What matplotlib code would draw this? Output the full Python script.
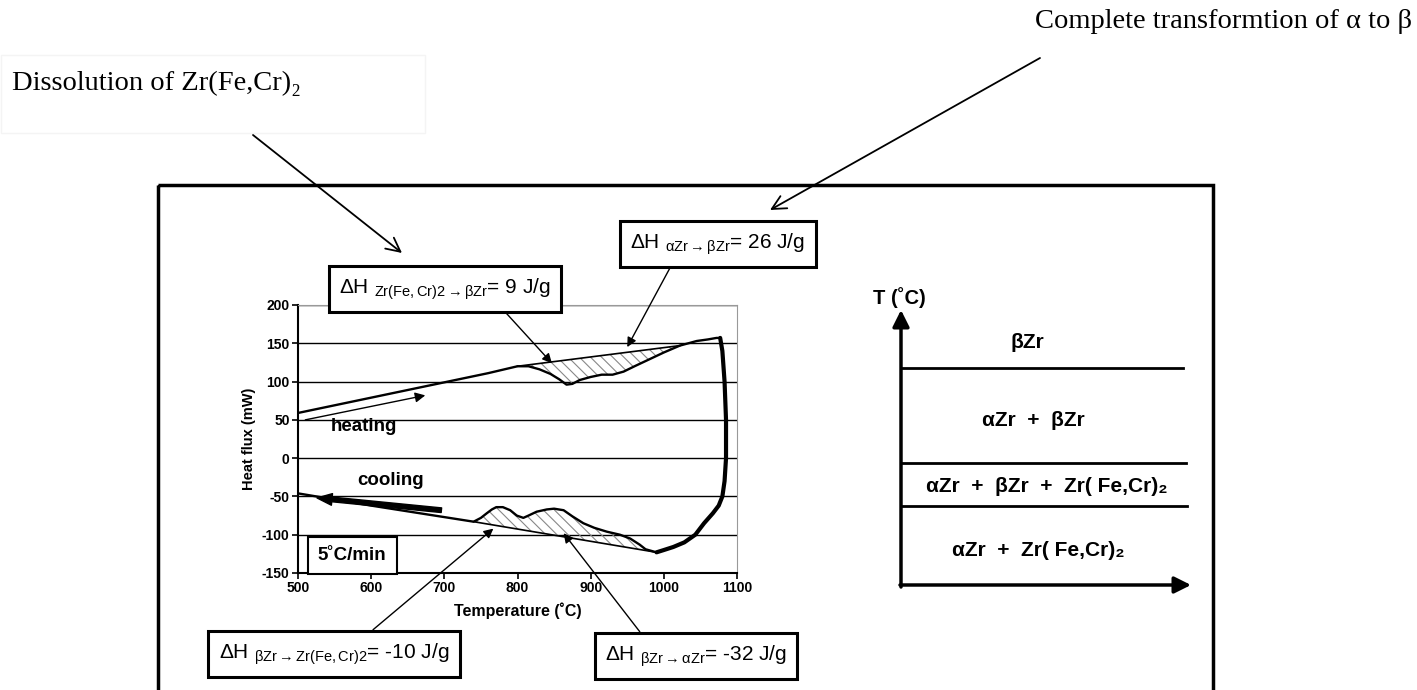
import matplotlib
matplotlib.use('Agg')
import matplotlib.pyplot as plt
import numpy as np
from matplotlib.patches import Rectangle

# DSC curve, heat flux (mW) vs temperature (C)
heat_T = [500, 600, 700, 760, 800, 815, 830, 845, 857, 867, 875, 885, 900, 915,
          930, 945, 960, 980, 1000, 1022, 1045, 1060, 1072, 1077]
heat_Q = [59, 79, 99, 111, 120, 120, 116, 110, 103, 96, 97, 102, 106, 109,
          109, 113, 120, 129, 138, 147, 153, 155, 157, 157]

loop_T = [1077, 1080, 1083, 1085, 1085, 1083, 1080, 1075, 1067, 1055, 1043,
          1028, 1013, 1000, 990]
loop_Q = [157, 140, 100, 50, 0, -30, -50, -62, -72, -85, -100,
          -110, -116, -120, -123]

cool_T = [990, 975, 967, 954, 940, 922, 905, 890, 875, 863, 850, 840, 826, 815,
          808, 799, 790, 780, 771, 765, 758, 750, 740, 600, 500]
cool_Q = [-123, -119, -113, -105, -100, -96, -91, -85, -76, -68, -66, -67, -70, -75,
          -78, -75, -68, -64, -64, -67, -72, -78, -83, -62, -46]

# integration baselines of the peaks
heat_base_T = [800, 1022]
heat_base_Q = [120, 147]
cool_base_T = [740, 990]
cool_base_Q = [-83, -123]

x_ticks = [500, 600, 700, 800, 900, 1000, 1100]
y_ticks = [-150, -100, -50, 0, 50, 100, 150, 200]

phases = ['βZr', 'αZr  +  βZr', 'αZr  +  βZr  +  Zr( Fe,Cr)₂', 'αZr  +  Zr( Fe,Cr)₂']

plt.rcParams['font.family'] = ['Liberation Sans', 'DejaVu Sans']
plt.rcParams['mathtext.fontset'] = 'custom'
plt.rcParams['mathtext.rm'] = 'Liberation Sans'
plt.rcParams['mathtext.it'] = 'Liberation Sans:italic'
plt.rcParams['mathtext.bf'] = 'Liberation Sans:bold'
plt.rcParams['hatch.linewidth'] = 0.8

W, H = 1417, 690
fig = plt.figure(figsize=(W / 100, H / 100), dpi=100)

# overlay in pixel coordinates for the schematic parts
ov = fig.add_axes([0, 0, 1, 1])
ov.set_xlim(0, W)
ov.set_ylim(H, 0)
ov.axis('off')

ax = fig.add_axes([298 / W, (H - 573) / H, 439 / W, 268 / H])

heat_T = np.array(heat_T)
heat_Q = np.array(heat_Q)
cool_T = np.array(cool_T)
cool_Q = np.array(cool_Q)

m = (heat_T >= heat_base_T[0]) & (heat_T <= heat_base_T[1])
ax.fill_between(heat_T[m], heat_Q[m], np.interp(heat_T[m], heat_base_T, heat_base_Q),
                facecolor='none', edgecolor='#888888', hatch='\\\\\\', linewidth=0)
m = (cool_T >= cool_base_T[0]) & (cool_T <= cool_base_T[1])
ax.fill_between(cool_T[m], cool_Q[m], np.interp(cool_T[m], cool_base_T, cool_base_Q),
                facecolor='none', edgecolor='#888888', hatch='\\\\\\', linewidth=0)

ax.plot(heat_base_T, heat_base_Q, color='black', lw=1.2)
ax.plot(cool_base_T, cool_base_Q, color='black', lw=1.2)
ax.plot(heat_T, heat_Q, color='black', lw=1.7)
ax.plot(loop_T, loop_Q, color='black', lw=3, solid_capstyle='round')
ax.plot(cool_T, cool_Q, color='black', lw=1.7)

ax.set_xlim(500, 1100)
ax.set_ylim(-150, 200)
ax.set_xticks(x_ticks)
ax.set_yticks(y_ticks)
ax.set_xticklabels([str(v) for v in x_ticks], fontweight='bold', fontsize=10)
ax.set_yticklabels([str(v) for v in y_ticks], fontweight='bold', fontsize=10)
ax.grid(axis='y', color='black', lw=1)
ax.set_axisbelow(True)
ax.tick_params(direction='out', length=4, width=1.2, pad=2)
for s in ['top', 'right']:
    ax.spines[s].set_color('#999999')
for s in ['left', 'bottom']:
    ax.spines[s].set_linewidth(1.5)
ax.set_xlabel('Temperature (˚C)', fontweight='bold', fontsize=11.5, labelpad=5)
ax.set_ylabel('Heat flux (mW)', fontweight='bold', fontsize=10.5, labelpad=4)

ax.text(590, 41, 'heating', ha='center', va='center', fontweight='bold', fontsize=13.5)
ax.text(626, -29, 'cooling', ha='center', va='center', fontweight='bold', fontsize=13.5)
ax.annotate('', xy=(674, 82), xytext=(510, 50),
            arrowprops=dict(arrowstyle='-|>', lw=1, color='black', mutation_scale=15,
                            shrinkA=0, shrinkB=0))
ax.annotate('', xy=(526, -52), xytext=(696, -68),
            arrowprops=dict(arrowstyle='simple,head_width=0.7,head_length=0.9,tail_width=0.28',
                            fc='black', ec='black', mutation_scale=12, shrinkA=0, shrinkB=0))
ax.text(574, -127, '5˚C/min', ha='center', va='center', fontweight='bold', fontsize=13.5,
        zorder=5, bbox=dict(boxstyle='square,pad=0.55', fc='white', ec='black', lw=1.5))

# enthalpy boxes
boxes = [
    (r'ΔH $_{\mathrm{Zr(Fe,Cr)2}\rightarrow\mathrm{βZr}}$= 9 J/g', (847, 124), (445, 289), (0.74, 0)),
    (r'ΔH $_{\mathrm{αZr}\rightarrow\mathrm{βZr}}$= 26 J/g', (950, 145), (718, 244), (0.26, 0)),
    (r'ΔH $_{\mathrm{βZr}\rightarrow\mathrm{Zr(Fe,Cr)2}}$= -10 J/g', (767, -92), (334, 654), (0.61, 1)),
    (r'ΔH $_{\mathrm{βZr}\rightarrow\mathrm{αZr}}$= -32 J/g', (863, -98), (696, 656), (0.24, 1)),
]
for label, xy, xytext, rp in boxes:
    ax.annotate(label, xy=xy, xycoords='data', xytext=xytext, textcoords=ov.transData,
                ha='center', va='center', fontsize=15, annotation_clip=False, zorder=6,
                bbox=dict(boxstyle='square,pad=0.5', fc='white', ec='black', lw=2.2),
                arrowprops=dict(arrowstyle='-|>', color='black', lw=1, relpos=rp,
                                mutation_scale=14, shrinkA=0, shrinkB=0))

# outer frame and top comments
ov.add_patch(Rectangle((158, 185), 1055, 600, fill=False, ec='black', lw=2.5))
ov.add_patch(Rectangle((1, 55), 424, 78, fill=False, ec='#f4f4f4', lw=1))
ov.text(12, 83, 'Dissolution of Zr(Fe,Cr)₂', family=['Liberation Serif', 'DejaVu Serif'],
        fontsize=20.5, va='center')
ov.text(1412, 22, 'Complete transformtion of α to β', family=['Liberation Serif', 'DejaVu Serif'],
        fontsize=20.5, va='center', ha='right')
ov.annotate('', xy=(402, 253), xytext=(253, 135),
            arrowprops=dict(arrowstyle='->', lw=1.3, mutation_scale=25, color='black',
                            shrinkA=0, shrinkB=0))
ov.annotate('', xy=(770, 210), xytext=(1040, 58),
            arrowprops=dict(arrowstyle='->', lw=1.3, mutation_scale=25, color='black',
                            shrinkA=0, shrinkB=0))

# phase schematic
ov.annotate('', xy=(901, 310), xytext=(901, 587),
            arrowprops=dict(arrowstyle='-|>', lw=2.5, mutation_scale=25, color='black',
                            shrinkA=0, shrinkB=0))
ov.annotate('', xy=(1191, 585), xytext=(900, 585),
            arrowprops=dict(arrowstyle='-|>', lw=2.5, mutation_scale=25, color='black',
                            shrinkA=0, shrinkB=0))
for yl, xe in [(368, 1183), (463, 1186), (506, 1187)]:
    ov.plot([901, xe], [yl, yl], color='black', lw=2)
ov.text(899, 298, 'T (˚C)', ha='center', va='center', fontweight='bold', fontsize=14.5)
for name, (xc, yc) in zip(phases, [(1027, 342), (1033, 420), (1047, 487), (1038, 551)]):
    ov.text(xc, yc, name, ha='center', va='center', fontweight='bold', fontsize=15)

fig.savefig('out.png', dpi=100)
